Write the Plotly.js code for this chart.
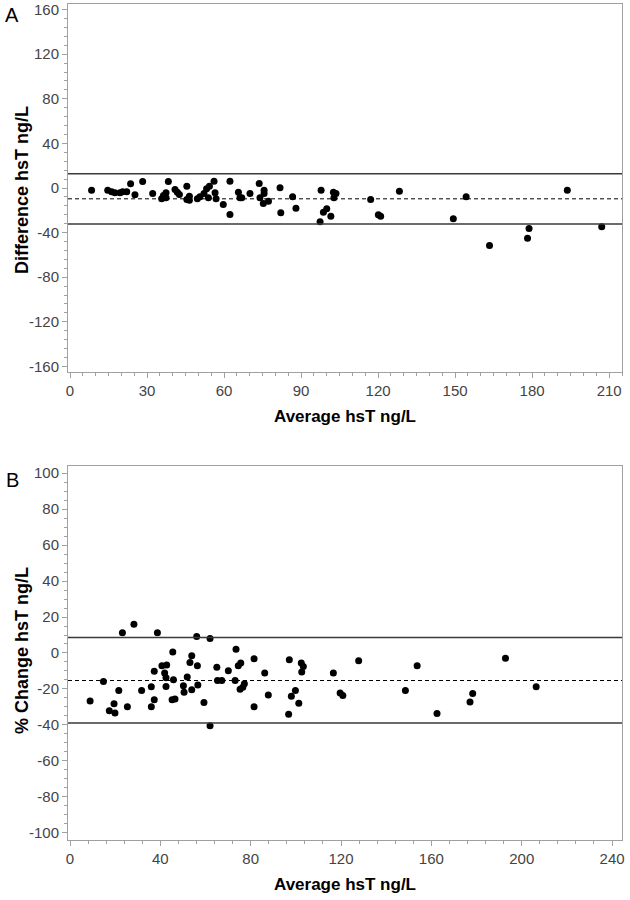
<!DOCTYPE html>
<html>
<head>
<meta charset="utf-8">
<script src="https://cdn.plot.ly/plotly-3.0.1.min.js"></script>
<style>html,body{margin:0;padding:0;background:#fff;}#chart{width:630px;height:900px;}</style>
</head>
<body>
<div id="chart"></div>
<script>
// Panel A: Average hsT vs Difference hsT (ng/L)
const avgA = [8.4,14.7,16.2,17.5,19.5,20.5,22.1,23.6,25.3,28.3,32.2,35.7,36.4,37.4,38.3,37.4,40.9,41.8,42.6,45.5,45.5,46.5,46.5,49.6,50.6,52.2,53.2,54.3,53.9,56.1,56.5,56.9,59.7,62.3,62.3,65.6,66.2,66.9,70.1,73.7,74.0,75.6,75.6,75.3,77.3,81.8,82.1,86.7,88.0,97.8,97.4,98.7,100.0,101.6,102.6,103.6,102.8,117.1,120.1,121.0,128.3,149.3,154.3,163.4,178.8,178.2,193.7,207.1];
const diffA = [-2.0,-2.0,-3.4,-4.3,-4.3,-3.4,-3.4,3.8,-6.1,5.8,-4.9,-9.7,-6.7,-4.3,5.8,-8.8,-1.3,-3.7,-5.8,1.6,-10.3,-7.3,-10.9,-9.7,-7.9,-4.9,-0.7,1.6,-8.8,6.1,-4.3,-9.7,-14.8,6.1,-23.8,-3.7,-8.8,-8.8,-4.9,4.0,-8.8,-2.0,-4.9,-13.9,-11.8,0.2,-22.2,-7.9,-18.1,-2.0,-30.3,-21.7,-18.6,-25.3,-3.7,-4.9,-8.8,-10.3,-24.0,-25.3,-2.9,-27.6,-7.9,-51.5,-36.3,-45.0,-2.0,-34.8];
const linesA = {upper: 12.7, mean: -9.7, lower: -32.2};

// Panel B: Average hsT vs % Change hsT
const avgB = [8.9,14.8,17.4,19.5,19.9,21.6,23.2,25.4,28.3,31.7,36.0,36.0,37.3,37.3,38.7,40.7,42.8,41.9,42.5,42.5,45.5,45.8,45.2,46.5,50.2,50.5,51.9,53.1,53.9,53.9,56.1,56.4,56.6,59.3,62.0,62.0,65.0,65.3,67.2,70.1,73.1,73.5,74.5,75.6,75.3,76.5,77.2,81.5,81.5,86.2,87.8,96.8,97.1,98.0,99.8,101.3,102.4,103.3,102.6,116.6,119.6,120.8,127.8,148.5,153.7,162.5,177.1,178.3,192.8,206.4];
const pctB = [-26.7,-15.8,-32.1,-28.2,-33.4,-20.8,11.2,-29.9,16.0,-20.8,-29.9,-18.8,-26.0,-10.1,11.2,-7.1,-6.7,-11.2,-13.8,-18.6,0.5,-14.9,-26.0,-25.6,-18.2,-21.9,-13.4,-5.3,-1.6,-20.4,9.2,-7.1,-17.8,-27.5,8.1,-40.4,-8.0,-15.3,-15.3,-9.9,-15.3,2.1,-7.1,-5.6,-20.1,-19.0,-17.1,-3.2,-29.9,-11.2,-23.4,-34.1,-3.8,-24.1,-20.8,-27.9,-5.6,-7.5,-10.6,-11.2,-22.3,-23.6,-4.3,-20.8,-7.1,-33.6,-27.3,-22.5,-2.9,-18.8];
const linesB = {upper: 8.6, mean: -15.3, lower: -39.0};

const ticksA_y = [-160,-120,-80,-40,0,40,80,120,160];
const ticksA_x = [0,30,60,90,120,150,180,210];
const ticksB_y = [-100,-80,-60,-40,-20,0,20,40,60,80,100];
const ticksB_x = [0,40,80,120,160,200,240];

const FONT = 'Liberation Sans, Arial, Helvetica, sans-serif';
const marker = {color:'#000', size:7, symbol:'circle'};

const traces = [
  {x: avgA, y: diffA, type:'scatter', mode:'markers', marker: marker, xaxis:'x', yaxis:'y', hoverinfo:'x+y'},
  {x: avgB, y: pctB, type:'scatter', mode:'markers', marker: marker, xaxis:'x2', yaxis:'y2', hoverinfo:'x+y'}
];

function hline(yref, xref, val, dashed){
  return {type:'line', xref: xref + ' domain', x0:0, x1:1, yref: yref, y0: val, y1: val,
    line: dashed ? {color:'#000', width:1, dash:'4px,3px'} : {color:'#3a3a3a', width:1.5}};
}

const axisCommon = {
  showline:true, mirror:true, linecolor:'#a0a0a0', linewidth:1,
  ticks:'outside', ticklen:5, tickcolor:'#a0a0a0',
  showgrid:false, zeroline:false,
  tickfont:{family:FONT, size:15, color:'#444'},
  automargin:false
};
const xTitleFont = {family:FONT, size:17, color:'#000', weight:'bold'};
const yTitleFont = {family:FONT, size:18, color:'#000', weight:'bold'};

const layout = {
  width:630, height:900,
  margin:{l:68, r:8, t:4, b:60},
  paper_bgcolor:'#fff', plot_bgcolor:'#fff',
  showlegend:false,
  font:{family:FONT},
  xaxis: Object.assign({}, axisCommon, {
    anchor:'y', domain:[0,1], range:[-0.78,215.0],
    tickmode:'array', tickvals: ticksA_x, ticktext: ticksA_x.map(String),
    minor:{ticks:'outside', ticklen:3, dtick:5, tick0:0, tickcolor:'#a0a0a0'},
    title:{text:'Average hsT ng/L', font:xTitleFont, standoff:12}
  }),
  yaxis: Object.assign({}, axisCommon, {
    anchor:'x', domain:[0.5598,1], range:[-165,165],
    tickmode:'array', tickvals: ticksA_y, ticktext: ticksA_y.map(String),
    minor:{ticks:'outside', ticklen:3, dtick:8, tick0:0, tickcolor:'#a0a0a0'}
  }),
  xaxis2: Object.assign({}, axisCommon, {
    anchor:'y2', domain:[0,1], range:[-0.89,244.4],
    tickmode:'array', tickvals: ticksB_x, ticktext: ticksB_x.map(String),
    minor:{ticks:'outside', ticklen:3, dtick:8, tick0:0, tickcolor:'#a0a0a0'},
    title:{text:'Average hsT ng/L', font:xTitleFont, standoff:12}
  }),
  yaxis2: Object.assign({}, axisCommon, {
    anchor:'x2', domain:[0,0.4474], range:[-104,104],
    tickmode:'array', tickvals: ticksB_y, ticktext: ticksB_y.map(String),
    minor:{ticks:'outside', ticklen:3, dtick:5, tick0:0, tickcolor:'#a0a0a0'}
  }),
  shapes: [
    hline('y','x', linesA.upper, false),
    hline('y','x', linesA.mean, true),
    hline('y','x', linesA.lower, false),
    hline('y2','x2', linesB.upper, false),
    hline('y2','x2', linesB.mean, true),
    hline('y2','x2', linesB.lower, false)
  ],
  annotations: [
    {text:'A', xref:'paper', yref:'paper', x:-0.101, y:0.987, xanchor:'center', yanchor:'middle', showarrow:false, font:{family:FONT, size:20, color:'#000'}},
    {text:'B', xref:'paper', yref:'paper', x:-0.101, y:0.4306, xanchor:'center', yanchor:'middle', showarrow:false, font:{family:FONT, size:20, color:'#000'}},
    {text:'Difference hsT ng/L', textangle:-90, xref:'paper', yref:'paper', x:-0.083, y:0.7775, xanchor:'center', yanchor:'middle', showarrow:false, font:yTitleFont},
    {text:'% Change hsT ng/L', textangle:-90, xref:'paper', yref:'paper', x:-0.083, y:0.226, xanchor:'center', yanchor:'middle', showarrow:false, font:yTitleFont}
  ]
};

Plotly.newPlot('chart', traces, layout, {displayModeBar:false, staticPlot:true});
</script>
</body>
</html>
